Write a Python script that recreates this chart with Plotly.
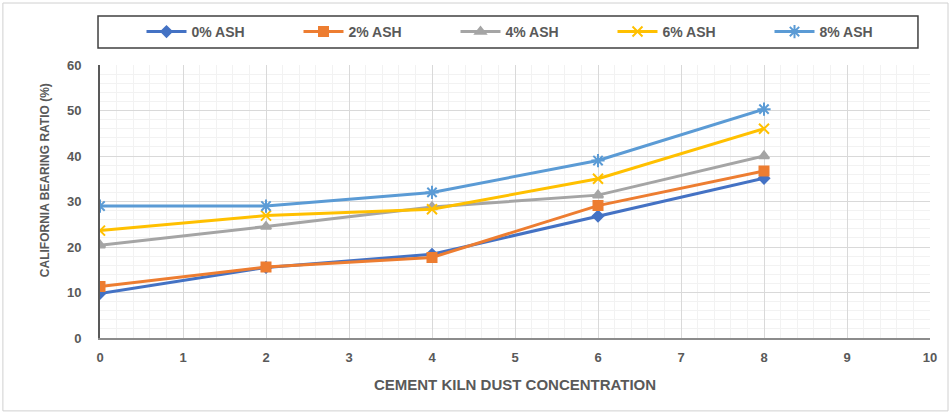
import plotly.graph_objects as go

# CKD concentration (x) and CBR values (%) per ash content
ckd = [0, 2, 4, 6, 8]
series_names = ["0% ASH", "2% ASH", "4% ASH", "6% ASH", "8% ASH"]
cbr_0 = [9.8, 15.5, 18.4, 26.8, 35.1]
cbr_2 = [11.3, 15.6, 17.7, 29.1, 36.7]
cbr_4 = [20.4, 24.5, 28.8, 31.4, 40.0]
cbr_6 = [23.6, 26.9, 28.3, 35.0, 46.0]
cbr_8 = [29.0, 29.0, 32.0, 39.0, 50.3]
x_ticks = list(range(0, 11))
y_ticks = list(range(0, 61, 10))

colors = ["#4472C4", "#ED7D31", "#A5A5A5", "#FFC000", "#5B9BD5"]
symbols = ["diamond", "square", "triangle-up", "x-thin-open", "asterisk-open"]
sizes = [8, 9, 9, 10, 11]

FONT = "Liberation Sans, Arial, sans-serif"
GREY = "#595959"

fig = go.Figure()
for name, vals, c, s, sz in zip(series_names, [cbr_0, cbr_2, cbr_4, cbr_6, cbr_8],
                                colors, symbols, sizes):
    fig.add_trace(go.Scatter(
        x=ckd, y=vals, name=name, mode="lines+markers",
        line=dict(color=c, width=3),
        marker=dict(symbol=s, size=sz, color=c, line=dict(color=c, width=2)),
    ))

fig.update_layout(
    width=952, height=416,
    margin=dict(l=100, r=22, t=65, b=78),
    paper_bgcolor="white", plot_bgcolor="white",
    font=dict(family=FONT, color=GREY, size=13),
    showlegend=True,
    legend=dict(
        orientation="h", x=0.05, xanchor="left", y=1.121, yanchor="middle",
        entrywidth=102, entrywidthmode="pixels", itemwidth=40,
        font=dict(size=14, color=GREY, family=FONT, weight="bold"),
        bgcolor="rgba(0,0,0,0)", borderwidth=0,
    ),
    xaxis=dict(
        range=[0, 10], tickvals=x_ticks, ticktext=[str(v) for v in x_ticks],
        showgrid=True, gridcolor="#d9d9d9", gridwidth=1,
        minor=dict(dtick=0.2, showgrid=True, gridcolor="#f2f2f2", gridwidth=1),
        showline=True, linecolor="#8c8c8c", linewidth=2,
        zeroline=False, ticks="", ticklabelstandoff=6,
        tickfont=dict(size=13, color=GREY, family=FONT, weight="bold"),
        title=dict(text="CEMENT KILN DUST CONCENTRATION", standoff=16,
                   font=dict(size=15, color=GREY, family=FONT, weight="bold")),
    ),
    yaxis=dict(
        range=[0, 60], tickvals=y_ticks, ticktext=[str(v) for v in y_ticks],
        showgrid=True, gridcolor="#d9d9d9", gridwidth=1,
        minor=dict(dtick=2, showgrid=True, gridcolor="#f2f2f2", gridwidth=1),
        showline=True, linecolor=GREY, linewidth=2,
        zeroline=False, ticks="", ticklabelstandoff=14,
        tickfont=dict(size=13, color=GREY, family=FONT, weight="bold"),
    ),
    annotations=[
        # y-axis title, placed slightly above the plot's vertical centre
        dict(text="CALIFORNIA BEARING RATIO (%)", textangle=-90,
             xref="paper", yref="paper", x=-0.066, y=0.579,
             xanchor="center", yanchor="middle", showarrow=False,
             font=dict(size=12, color=GREY, family=FONT, weight="bold")),
    ],
    shapes=[
        # outer chart frame
        dict(type="rect", xref="paper", yref="paper",
             x0=-0.117, x1=1.0217, y0=-0.267, y1=1.227,
             line=dict(color="#d0d0d0", width=1), layer="below"),
        # legend box
        dict(type="rect", xref="paper", yref="paper",
             x0=-0.0024, x1=0.9855, y0=1.0623, y1=1.1795,
             line=dict(color="#404040", width=1.5), layer="below"),
    ],
)

fig.write_html("out.html")
